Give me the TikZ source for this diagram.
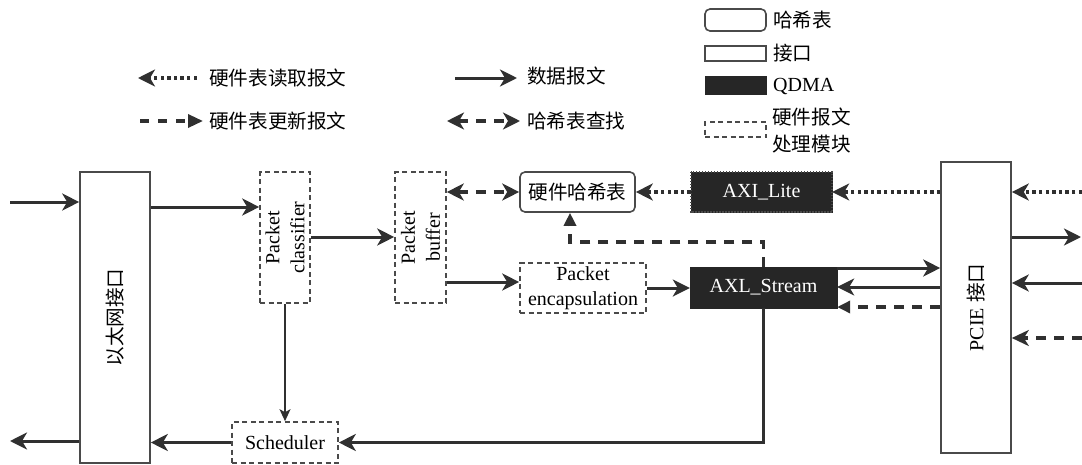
\documentclass[tikz,border=0pt]{standalone}
\usepackage{fontspec}
\setmainfont{Liberation Serif}
\newfontfamily\cjk{Noto Sans CJK SC}
\usetikzlibrary{arrows.meta}
\definecolor{lc}{HTML}{303030}
\definecolor{bc}{HTML}{4A4A4A}
\definecolor{qc}{HTML}{262626}
\newcommand\zh{\cjk\fontsize{19.6}{27}\selectfont}
\newcommand\en{\fontsize{20}{25}\selectfont}
\tikzset{
  ln/.style={draw=lc, line width=3pt},
  data/.style={ln, -{Stealth[length=17pt,width=17pt,inset=5pt]}},
  thinarrow/.style={draw=lc, line width=1.6pt, -{Stealth[length=12pt,width=11pt,inset=3pt]}},
  rd/.style={ln, line width=3.4pt, dash pattern=on 3.4pt off 3.2pt, -{Stealth[length=17pt,width=17pt,inset=5pt]}},
  upd/.style={ln, line width=3.3pt, dash pattern=on 10pt off 8pt, -{Triangle[length=13pt,width=12pt]}},
  updS/.style={ln, line width=3.3pt, dash pattern=on 10pt off 8pt, -{Stealth[length=17pt,width=16pt,inset=5pt]}},
  look/.style={ln, line width=3.3pt, dash pattern=on 10pt off 8pt, {Stealth[length=17pt,width=17pt,inset=5pt]}-{Stealth[length=17pt,width=17pt,inset=5pt]}},
  iface/.style={draw=bc, line width=1.6pt, fill=white, inner sep=0pt},
  proc/.style={draw=bc, line width=1.6pt, dash pattern=on 5pt off 3.5pt, inner sep=0pt},
  qdma/.style={fill=qc, draw=qc, inner sep=0pt, text=white, font=\en},
  hashbox/.style={draw=bc, line width=1.6pt, rounded corners=5pt, inner sep=0pt},
  lbl/.style={anchor=west, inner sep=0pt},
}
\begin{document}
\begin{tikzpicture}[x=1pt,y=-1pt]
\useasboundingbox (0,0) rectangle (1082,464);

% ---------- legend ----------
\coordinate (l1a) at (197,78);
\coordinate (l1b) at (138,78);
\draw[rd] (l1a) -- (l1b);
\node[lbl, font=\zh] (l1t) at (209,78) {硬件表读取报文};
\coordinate (l2a) at (140,121);
\coordinate (l2b) at (203,121);
\draw[ln, line width=3.3pt, dash pattern=on 9pt off 9pt, -{Triangle[length=15pt,width=13pt]}] (l2a) -- (l2b);
\node[lbl, font=\zh] (l2t) at (209,121) {硬件表更新报文};
\coordinate (l3a) at (455,78);
\coordinate (l3b) at (517,78);
\draw[data] (l3a) -- (l3b);
\node[lbl, font=\zh] (l3t) at (527,76) {数据报文};
\coordinate (l4a) at (447,121);
\coordinate (l4b) at (520,121);
\draw[look] (l4a) -- (l4b);
\node[lbl, font=\zh] (l4t) at (527,121) {哈希表查找};

\node[hashbox, minimum width=61pt, minimum height=22pt] (lg1) at (735.5,20) {};
\node[lbl, font=\zh] (lg1t) at (773,20) {哈希表};
\node[iface, minimum width=61pt, minimum height=15pt] (lg2) at (735.5,53.5) {};
\node[lbl, font=\zh] (lg2t) at (773,53.5) {接口};
\node[qdma, minimum width=61pt, minimum height=18pt] (lg3) at (735.5,85) {};
\node[lbl, font=\en] (lg3t) at (773,86) {QDMA};
\node[proc, minimum width=61pt, minimum height=15pt] (lg4) at (735.5,129.5) {};
\node[lbl, font=\zh, align=left] (lg4t) at (772,130.5) {硬件报文\\处理模块};

% ---------- blocks ----------
\node[iface, minimum width=70pt, minimum height=291pt] (eth) at (115,317.5) {};
\node[rotate=90, font=\zh] (ethT) at (eth) {以太网接口};
\node[proc, minimum width=50pt, minimum height=131pt] (cls) at (285,237.5) {};
\node[rotate=90, align=center, font=\en] (clsT) at (cls) {Packet\\classifier};
\node[proc, minimum width=51pt, minimum height=131pt] (buf) at (420.5,237.5) {};
\node[rotate=90, align=center, font=\en] (bufT) at (buf) {Packet\\buffer};
\node[proc, minimum width=106pt, minimum height=41pt, font=\en] (sch) at (285,442.5) {Scheduler};
\node[hashbox, minimum width=115pt, minimum height=40pt, font=\zh] (hash) at (577.5,192) {硬件哈希表};
\node[qdma, minimum width=141pt, minimum height=40pt] (axil) at (761.5,192) {AXI\_Lite};
\draw[bc, line width=1.5pt, dash pattern=on 1.5pt off 1.5pt] (axil.north west) rectangle (axil.south east);
\node[proc, minimum width=126pt, minimum height=50pt, align=center, font=\en] (enc) at (583,288) {Packet\\encapsulation};
\node[qdma, minimum width=147pt, minimum height=41pt] (axls) at (763.5,287.5) {AXL\_Stream};
\node[iface, minimum width=70pt, minimum height=291pt] (pcie) at (976,307.5) {};
\node[rotate=90, font=\en] (pcieT) at (pcie) {PCIE {\zh 接口}};

% ---------- helper coordinates ----------
\coordinate (inL) at (10,202);
\coordinate (outL) at (10,441);
\coordinate (y207) at (0,207);
\coordinate (y237) at (0,237);
\coordinate (y282) at (0,282);
\coordinate (y242) at (0,242);
\coordinate (y268) at (0,268);
\coordinate (y287) at (0,287);
\coordinate (y307) at (0,307);
\coordinate (r192) at (1082,192);
\coordinate (r237) at (1081,237);
\coordinate (r283) at (1082,283);
\coordinate (r338) at (1082,338);
\coordinate (x570) at (570,0);

% ---------- connectors ----------
\draw[data] (inL) -- (eth.west |- inL);
\draw[data] (eth.west |- outL) -- (outL);
\draw[data] (eth.east |- y207) -- (cls.west |- y207);
\draw[data] (cls.east |- y237) -- (buf.west |- y237);
\draw[thinarrow] (cls.south) -- (sch.north);
\draw[data] (sch.west) -- (eth.east |- sch.west);
\draw[data] (axls.south) -- (axls.south |- sch.east) -- (sch.east);
\draw[data] (buf.east |- y282) -- (enc.west |- y282);
\draw[data] (enc.east) -- (axls.west |- enc.east);
\draw[look] (buf.east |- hash.west) -- (hash.west);
\draw[rd] (axil.west) -- (hash.east);
\draw[rd] (pcie.west |- axil.east) -- (axil.east);
\draw[rd] (r192) -- (pcie.east |- r192);
\draw[data] (pcie.east |- r237) -- (r237);
\draw[data] (r283) -- (pcie.east |- r283);
\draw[updS] (r338) -- (pcie.east |- r338);
\draw[data] (axls.east |- y268) -- (pcie.west |- y268);
\draw[data] (pcie.west |- y287) -- (axls.east |- y287);
\draw[upd] (pcie.west |- y307) -- (axls.east |- y307);
\draw[upd] (axls.north) -- (axls.north |- y242) -- (x570 |- y242) -- (x570 |- hash.south);
\end{tikzpicture}
\end{document}
